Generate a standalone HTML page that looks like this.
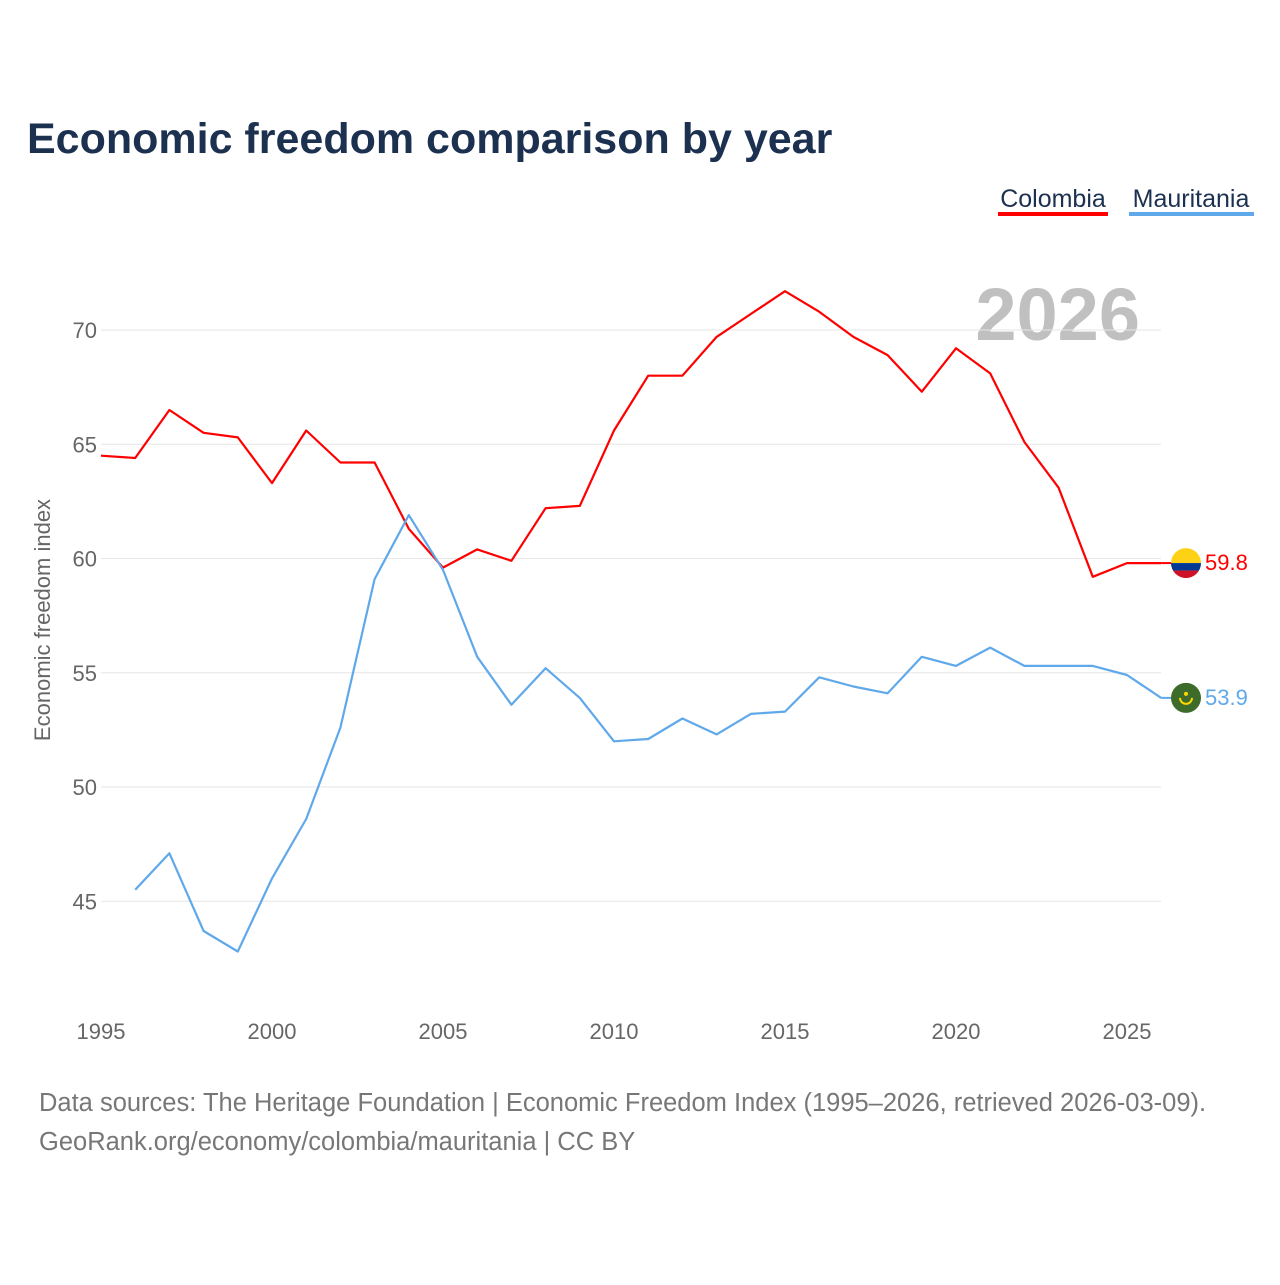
<!DOCTYPE html>
<html><head><meta charset="utf-8"><style>
body{margin:0;background:#fff;font-family:"Liberation Sans",sans-serif}
svg text{font-family:"Liberation Sans",sans-serif}
</style></head><body>
<svg id="chart" width="1280" height="1280" viewBox="0 0 1280 1280" xmlns="http://www.w3.org/2000/svg">
<text x="27" y="153" font-size="43" font-weight="bold" fill="#1c3150">Economic freedom comparison by year</text>
<g><text x="1053" y="207" font-size="25" fill="#1c3150" text-anchor="middle">Colombia</text><rect x="998" y="212" width="110" height="4" fill="#ff0000"/></g>
<g><text x="1191" y="207" font-size="25" fill="#1c3150" text-anchor="middle">Mauritania</text><rect x="1129" y="212" width="125" height="4" fill="#5fa8ea"/></g>
<text x="1140" y="340" font-size="74" font-weight="bold" fill="#c0c0c0" text-anchor="end">2026</text>
<text transform="translate(50,620) rotate(-90)" font-size="22" fill="#666" text-anchor="middle">Economic freedom index</text>
<g id="grid"></g><g id="series"></g>
<text x="39" y="1111" font-size="25.5" fill="#777">Data sources: The Heritage Foundation | Economic Freedom Index (1995–2026, retrieved 2026-03-09).</text>
<text x="39" y="1150" font-size="25.5" fill="#777">GeoRank.org/economy/colombia/mauritania | CC BY</text>
</svg>
<script>
const years=[1995,1996,1997,1998,1999,2000,2001,2002,2003,2004,2005,2006,2007,2008,2009,2010,2011,2012,2013,2014,2015,2016,2017,2018,2019,2020,2021,2022,2023,2024,2025,2026];
const colombia=[64.5,64.4,66.5,65.5,65.3,63.3,65.6,64.2,64.2,61.3,59.6,60.4,59.9,62.2,62.3,65.6,68.0,68.0,69.7,70.7,71.7,70.8,69.7,68.9,67.3,69.2,68.1,65.1,63.1,59.2,59.8,59.8];
const mauritania=[null,45.5,47.1,43.7,42.8,46.0,48.6,52.6,59.1,61.9,59.5,55.7,53.6,55.2,53.9,52.0,52.1,53.0,52.3,53.2,53.3,54.8,54.4,54.1,55.7,55.3,56.1,55.3,55.3,55.3,54.9,53.9];
const yTicks=[45,50,55,60,65,70];
const xTicks=[1995,2000,2005,2010,2015,2020,2025];
const NS="http://www.w3.org/2000/svg";
const X=y=>101+(y-1995)*(1127-101)/30;
const Y=v=>330+(70-v)*22.85;
function mk(t,a,p){const e=document.createElementNS(NS,t);for(const k in a)e.setAttribute(k,a[k]);p.appendChild(e);return e;}
const grid=document.getElementById('grid'),ser=document.getElementById('series');
yTicks.forEach(v=>{
 const l=mk('line',{x1:101,x2:1161,y1:Y(v),y2:Y(v),stroke:'#e6e6e6','stroke-width':1},grid);
 
 
 const t=mk('text',{x:97,y:Y(v)+8,'font-size':22,fill:'#666','text-anchor':'end'},grid);t.textContent=v;
 
 
});
xTicks.forEach(v=>{
 const t=mk('text',{x:X(v),y:1039,'font-size':22,fill:'#666','text-anchor':'middle'},grid);t.textContent=v;
 
 
});
function line(vals,color,name){
 const pts=[];vals.forEach((v,i)=>{if(v!=null)pts.push(X(years[i]).toFixed(1)+','+Y(v).toFixed(1));});
 const p=mk('polyline',{points:pts.join(' '),fill:'none',stroke:color,'stroke-width':2.2,'stroke-linejoin':'round'},ser);
 
 
 const last=vals[vals.length-1],ly=Y(last);
 mk('line',{x1:X(2026),x2:1172,y1:ly,y2:ly,stroke:color,'stroke-width':2},ser);
 const t=mk('text',{x:1205,y:ly+7,'font-size':22,fill:color},ser);t.textContent=last.toFixed(1);
 
 
 return ly;
}
const cy=line(colombia,'#ff0000','colombia-line');
const my=line(mauritania,'#5fa8ea','mauritania-line');
const fc=mk('g',{},ser);


const cp=mk('clipPath',{id:'cc'},fc);
mk('circle',{cx:1186,cy:cy,r:15},cp);
const gcl=mk('g',{'clip-path':'url(#cc)'},fc);
mk('rect',{x:1171,y:cy-15,width:30,height:15,fill:'#fcd116'},gcl);
mk('rect',{x:1171,y:cy,width:30,height:7.5,fill:'#003893'},gcl);
mk('rect',{x:1171,y:cy+7.5,width:30,height:7.5,fill:'#ce1126'},gcl);
const fm=mk('g',{},ser);


mk('circle',{cx:1186,cy:my,r:15,fill:'#3d6b2a'},fm);
mk('path',{d:`M${1180} ${my} a6 6 0 0 0 12 0`,fill:'none',stroke:'#ffd700','stroke-width':2},fm);
mk('circle',{cx:1186,cy:my-4,r:2,fill:'#ffd700'},fm);
</script>
</body></html>
